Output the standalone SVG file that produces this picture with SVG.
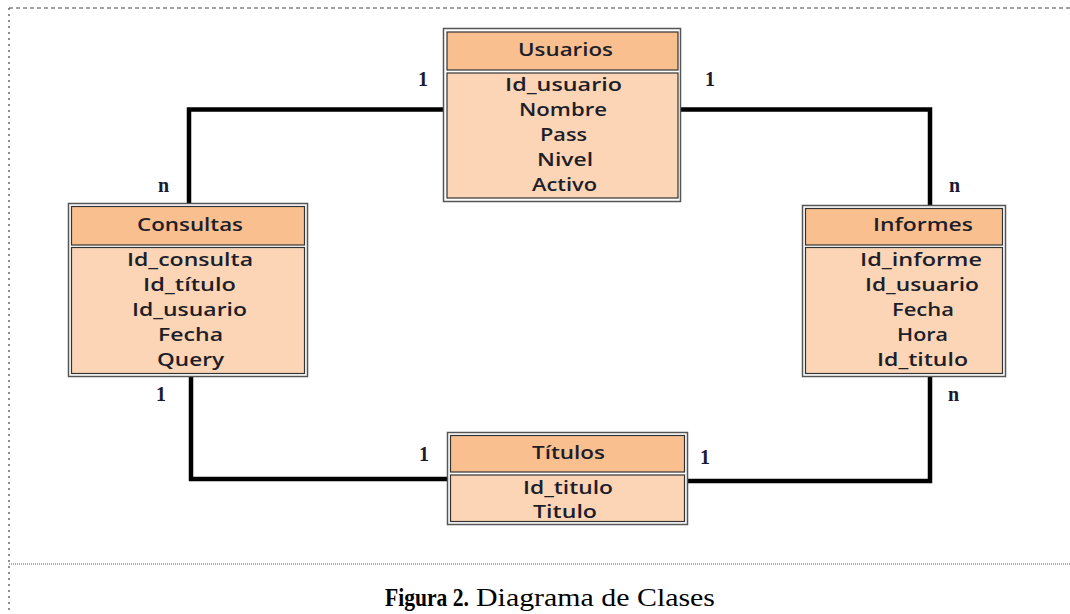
<svg xmlns="http://www.w3.org/2000/svg" width="1070" height="614" viewBox="0 0 1070 614">
<style>
.outer{fill:#fff;stroke:#555;stroke-width:1.5}
.hd{fill:#F9BF8F;stroke:#333;stroke-width:1.2}
.bd{fill:#FBD5B5;stroke:#333;stroke-width:1.2}
.t{font-family:"Open Sans","Noto Sans",sans-serif;font-weight:600;font-size:18px;fill:#1e1e2a;text-anchor:middle}
.lbl{font-family:"Liberation Serif",serif;font-weight:bold;font-size:20px;fill:#1a1a33}
.cap{font-family:"Liberation Serif",serif;font-size:26px;fill:#000}
.conn{fill:none;stroke:#000;stroke-width:4.5;stroke-linejoin:miter}
</style>
<rect width="1070" height="614" fill="#fff"/>
<g id="frame" fill="none">
<line x1="9" y1="8" x2="1070" y2="8" stroke="#444" stroke-width="1" stroke-dasharray="4 3"/>
<line x1="9" y1="8" x2="9" y2="614" stroke="#444" stroke-width="1.2" stroke-dasharray="2 4"/>
<line x1="9" y1="564" x2="1070" y2="564" stroke="#555" stroke-width="1" stroke-dasharray="1 1"/>
</g>
<g id="connectors">
<path class="conn" d="M443 109.5 H189 V203"/>
<path class="conn" d="M681 109.5 H930 V205"/>
<path class="conn" d="M191 377 V479 H447"/>
<path class="conn" d="M688 481 H930 V377"/>
</g>
<g id="usuarios">
<rect class="outer" x="443.5" y="28.5" width="237" height="173"/>
<rect class="hd" x="447" y="32" width="231" height="38"/>
<rect class="bd" x="447" y="73" width="231" height="125"/>
<text class="t" x="565.5" y="56" textLength="95" lengthAdjust="spacingAndGlyphs">Usuarios</text>
<text class="t" x="563.5" y="91" textLength="117" lengthAdjust="spacingAndGlyphs">Id_usuario</text>
<text class="t" x="563" y="116" textLength="88" lengthAdjust="spacingAndGlyphs">Nombre</text>
<text class="t" x="563.5" y="141" textLength="47" lengthAdjust="spacingAndGlyphs">Pass</text>
<text class="t" x="565" y="166" textLength="56" lengthAdjust="spacingAndGlyphs">Nivel</text>
<text class="t" x="564.5" y="191" textLength="65" lengthAdjust="spacingAndGlyphs">Activo</text>
</g>
<g id="consultas">
<rect class="outer" x="68.5" y="203.5" width="239" height="173"/>
<rect class="hd" x="71.5" y="206.5" width="233" height="38.5"/>
<rect class="bd" x="71.5" y="247.5" width="233" height="126"/>
<text class="t" x="190" y="231" textLength="106" lengthAdjust="spacingAndGlyphs">Consultas</text>
<text class="t" x="190" y="266" textLength="126" lengthAdjust="spacingAndGlyphs">Id_consulta</text>
<text class="t" x="189.5" y="291" textLength="93" lengthAdjust="spacingAndGlyphs">Id_título</text>
<text class="t" x="189.5" y="316" textLength="115" lengthAdjust="spacingAndGlyphs">Id_usuario</text>
<text class="t" x="190.5" y="341" textLength="65" lengthAdjust="spacingAndGlyphs">Fecha</text>
<text class="t" x="190.5" y="366" textLength="67" lengthAdjust="spacingAndGlyphs">Query</text>
</g>
<g id="informes">
<rect class="outer" x="802.5" y="205.5" width="203" height="171"/>
<rect class="hd" x="805.5" y="208.5" width="197" height="36.5"/>
<rect class="bd" x="805.5" y="247.5" width="197" height="126"/>
<text class="t" x="923" y="231" textLength="100" lengthAdjust="spacingAndGlyphs">Informes</text>
<text class="t" x="921" y="266" textLength="122" lengthAdjust="spacingAndGlyphs">Id_informe</text>
<text class="t" x="922" y="291" textLength="114" lengthAdjust="spacingAndGlyphs">Id_usuario</text>
<text class="t" x="923" y="316" textLength="62" lengthAdjust="spacingAndGlyphs">Fecha</text>
<text class="t" x="922.5" y="341" textLength="51" lengthAdjust="spacingAndGlyphs">Hora</text>
<text class="t" x="922.5" y="366" textLength="91" lengthAdjust="spacingAndGlyphs">Id_titulo</text>
</g>
<g id="titulos">
<rect class="outer" x="447.5" y="432.5" width="240" height="92"/>
<rect class="hd" x="450.5" y="435.5" width="234" height="36.5"/>
<rect class="bd" x="450.5" y="475" width="234" height="46.5"/>
<text class="t" x="568.5" y="459" textLength="73" lengthAdjust="spacingAndGlyphs">Títulos</text>
<text class="t" x="568" y="494" textLength="90" lengthAdjust="spacingAndGlyphs">Id_titulo</text>
<text class="t" x="565" y="518" textLength="64" lengthAdjust="spacingAndGlyphs">Titulo</text>
</g>
<g id="labels">
<text class="lbl" x="418" y="86">1</text>
<text class="lbl" x="705" y="86">1</text>
<text class="lbl" x="158" y="192">n</text>
<text class="lbl" x="949" y="192">n</text>
<text class="lbl" x="156" y="401">1</text>
<text class="lbl" x="948" y="401">n</text>
<text class="lbl" x="419" y="461">1</text>
<text class="lbl" x="700" y="464">1</text>
</g>
<g id="caption">
<text class="cap" x="385" y="606" font-weight="bold" textLength="84" lengthAdjust="spacingAndGlyphs">Figura 2.</text>
<text class="cap" x="476" y="606" textLength="239" lengthAdjust="spacingAndGlyphs">Diagrama de Clases</text>
</g>
</svg>
